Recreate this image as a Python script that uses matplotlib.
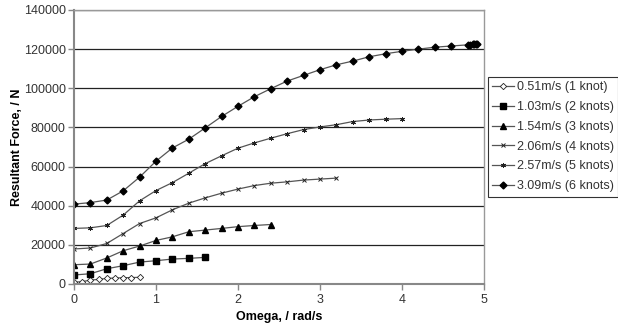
import matplotlib
matplotlib.use("Agg")
import matplotlib.pyplot as plt
import numpy as np

plt.rcParams['font.family'] = ['Liberation Sans', 'DejaVu Sans']

labels = ["0.51m/s (1 knot)", "1.03m/s (2 knots)", "1.54m/s (3 knots)",
          "2.06m/s (4 knots)", "2.57m/s (5 knots)", "3.09m/s (6 knots)"]

omega_1 = [0, 0.1, 0.2, 0.3, 0.4, 0.5, 0.6, 0.7, 0.8]
force_1 = [900, 1200, 2000, 2350, 2850, 3050, 3200, 3300, 3400]

omega_2 = [0, 0.2, 0.4, 0.6, 0.8, 1.0, 1.2, 1.4, 1.6]
force_2 = [4600, 5250, 7800, 9350, 11200, 11900, 12750, 13100, 13600]

omega_3 = [0, 0.2, 0.4, 0.6, 0.8, 1.0, 1.2, 1.4, 1.6, 1.8, 2.0, 2.2, 2.4]
force_3 = [9850, 10200, 13300, 17000, 19400, 22250, 24100, 26700, 27550,
           28400, 29300, 29900, 30400]

omega_4 = [0, 0.2, 0.4, 0.6, 0.8, 1.0, 1.2, 1.4, 1.6, 1.8, 2.0, 2.2, 2.4,
           2.6, 2.8, 3.0, 3.2]
force_4 = [17900, 18400, 20700, 25800, 30900, 33800, 37900, 41300, 44000,
           46400, 48500, 50300, 51500, 52200, 53100, 53600, 54100]

omega_5 = [0, 0.2, 0.4, 0.6, 0.8, 1.0, 1.2, 1.4, 1.6, 1.8, 2.0, 2.2, 2.4,
           2.6, 2.8, 3.0, 3.2, 3.4, 3.6, 3.8, 4.0]
force_5 = [28400, 28700, 29900, 35200, 42500, 47750, 51800, 56600, 61500,
           65500, 69400, 72100, 74500, 76800, 78900, 80250, 81400, 83000,
           83800, 84200, 84500]

omega_6 = [0, 0.2, 0.4, 0.6, 0.8, 1.0, 1.2, 1.4, 1.6, 1.8, 2.0, 2.2, 2.4,
           2.6, 2.8, 3.0, 3.2, 3.4, 3.6, 3.8, 4.0, 4.2, 4.4, 4.6, 4.8,
           4.83, 4.86, 4.88, 4.9, 4.92]
force_6 = [40800, 41600, 42900, 47600, 54600, 62750, 69500, 74000, 79750,
           85600, 90800, 95700, 99800, 103700, 106600, 109500, 112000,
           113900, 116100, 117650, 118900, 120000, 121000, 121600, 122200,
           122300, 122400, 122400, 122500, 122500]

series = [(omega_1, force_1), (omega_2, force_2), (omega_3, force_3),
          (omega_4, force_4), (omega_5, force_5), (omega_6, force_6)]
styles = [
    dict(marker='D', markersize=3.2, markerfacecolor='white', markeredgecolor='#222222', markeredgewidth=0.6),
    dict(marker='s', markersize=3.8, markerfacecolor='black', markeredgecolor='black'),
    dict(marker='^', markersize=4.2, markerfacecolor='black', markeredgecolor='black'),
    dict(marker='x', markersize=3.2, markeredgecolor='#222222', markeredgewidth=0.7),
    dict(marker=(6, 2, 0), markersize=3.6, markeredgecolor='#222222', markeredgewidth=0.7),
    dict(marker='D', markersize=3.5, markerfacecolor='black', markeredgecolor='black'),
]

fig = plt.figure(figsize=(6.18, 3.27), dpi=100)
ax = fig.add_axes([74/618, 1-284/327, (484-74)/618, (284-10)/327])

for (x, y), lab, st in zip(series, labels, styles):
    ax.plot(x, y, color='#555555', linewidth=0.9, label=lab, **st)

ax.set_xlim(0, 5)
ax.set_ylim(0, 140000)
ax.set_xticks([0, 1, 2, 3, 4, 5])
ax.set_yticks(np.arange(0, 140001, 20000))
ax.yaxis.grid(True, color='#222222', linewidth=0.9)
ax.set_axisbelow(True)
for s in ['top', 'right']:
    ax.spines[s].set_color('#999999')
    ax.spines[s].set_linewidth(1.0)
for s in ['left', 'bottom']:
    ax.spines[s].set_color('#888888')
    ax.spines[s].set_linewidth(1.5)
ax.tick_params(axis='both', colors='#888888', labelcolor='#333333', labelsize=9,
               length=4, width=1)
ax.tick_params(axis='y', pad=2)
ax.set_xlabel("Omega, / rad/s", fontsize=9, fontweight='bold', labelpad=3)
ax.set_ylabel("Resultant Force, / N", fontsize=9, fontweight='bold')
ax.yaxis.set_label_coords(-51/410, 0.5)

leg = fig.legend(loc='upper left', bbox_to_anchor=(488/618, 1-77/327),
                 fontsize=9, frameon=True, fancybox=False, edgecolor='black',
                 handlelength=1.7, handletextpad=0.25, borderpad=0.35,
                 labelspacing=0.62, borderaxespad=0)
leg.get_frame().set_linewidth(0.8)
for t in leg.get_texts():
    t.set_color('#333333')

fig.savefig("out.png", dpi=100)
